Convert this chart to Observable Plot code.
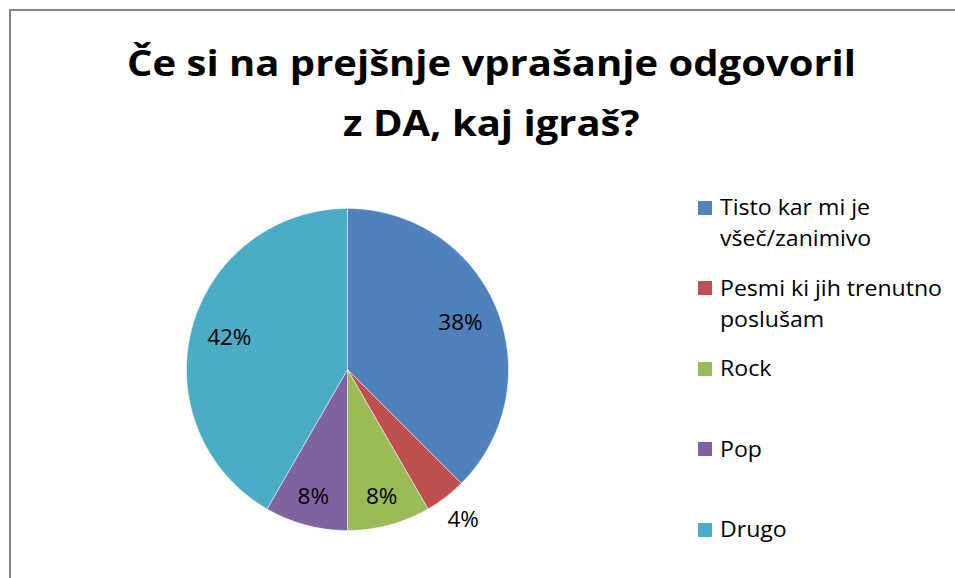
<!DOCTYPE html>
<html><head><meta charset="utf-8">
<script src="https://cdn.jsdelivr.net/npm/d3@7"></script>
<script src="https://cdn.jsdelivr.net/npm/@observablehq/plot@0.6"></script>
<style>
html,body{margin:0;padding:0;background:#fff;overflow:hidden;width:955px;height:578px;position:relative;}
#frame{position:absolute;left:9px;top:9px;width:1000px;height:700px;border:2px solid #868686;box-sizing:border-box;}
.t{position:absolute;white-space:nowrap;color:#000;font-family:"Open Sans",sans-serif;transform-origin:0 0;}
.sw{position:absolute;width:14px;height:14px;}
#chart{position:absolute;}
</style></head><body>
<div id="frame"></div>
<div id="chart"></div>
<script>
const titleLines = ["Če si na prejšnje vprašanje odgovoril", "z DA, kaj igraš?"];
const categories = ["Tisto kar mi je všeč/zanimivo", "Pesmi ki jih trenutno poslušam", "Rock", "Pop", "Drugo"];
const counts = [9, 1, 2, 2, 10];
const colors = ["#4F81BD", "#C0504D", "#9BBB59", "#8064A2", "#4BACC6"];

const FONT = "'Open Sans'";
const cv = document.createElement("canvas").getContext("2d");
function measure(txt, size, weight) {
  cv.font = `${weight} ${size}px ${FONT}`;
  return cv.measureText(txt);
}
function addText(txt, size, weight, sx, x, baseline, anchor) {
  const m = measure(txt, size, weight);
  const asc = m.fontBoundingBoxAscent, desc = m.fontBoundingBoxDescent;
  const d = document.createElement("div");
  d.className = "t";
  d.textContent = txt;
  d.style.fontSize = size + "px";
  d.style.fontWeight = weight;
  d.style.lineHeight = (asc + desc) + "px";
  d.style.top = (baseline - asc) + "px";
  d.style.transform = `scaleX(${sx})`;
  const w = m.width * sx;
  d.style.left = (anchor === "middle" ? x - w / 2 : x) + "px";
  document.body.appendChild(d);
}

// Title
const titleSize = 35;
const titleSx = 729 / measure(titleLines[0], titleSize, "bold").width;
titleLines.forEach((l, i) => addText(l, titleSize, "bold", titleSx, 491, 76 + 60 * i, "middle"));

// Legend
const legSize = 22.5;
const legSx = 222 / measure("Pesmi ki jih trenutno", legSize, "normal").width;
function wrap(txt, maxW) {
  const words = txt.split(" "), lines = [];
  let cur = "";
  for (const w of words) {
    const t = cur ? cur + " " + w : w;
    if (measure(t, legSize, "normal").width * legSx > maxW && cur) { lines.push(cur); cur = w; }
    else cur = t;
  }
  lines.push(cur);
  return lines;
}
categories.forEach((c, i) => {
  const base = 215 + 80.5 * i;
  const sw = document.createElement("div");
  sw.className = "sw";
  sw.style.background = colors[i];
  sw.style.left = "698px";
  sw.style.top = (base - 14.5) + "px";
  document.body.appendChild(sw);
  wrap(c, 228).forEach((l, j) => addText(l, legSize, "normal", legSx, 720, base + 31 * j, "start"));
});

// Pie
const total = d3.sum(counts);
const arcs = d3.pie().sort(null).value(d => d)(counts);
const R = 161, HALF = 180, D = HALF / R;
const pts = [];
const labels = [];
arcs.forEach((a, i) => {
  const cat = categories[i];
  pts.push({category: cat, x: 0, y: 0});
  const n = Math.max(2, Math.ceil((a.endAngle - a.startAngle) / (Math.PI / 360)));
  for (let k = 0; k <= n; k++) {
    const t = a.startAngle + (a.endAngle - a.startAngle) * k / n;
    pts.push({category: cat, x: Math.sin(t), y: Math.cos(t)});
  }
  pts.push({category: cat, x: 0, y: 0});
  const share = counts[i] / total;
  const mid = (a.startAngle + a.endAngle) / 2;
  const rf = share < 0.05 ? 1.18 : share < 0.2 ? 0.82 : 0.76;
  labels.push({x: rf * Math.sin(mid), y: rf * Math.cos(mid), text: Math.round(share * 100) + "%"});
});

const chart = Plot.plot({
  width: 2 * HALF, height: 2 * HALF, margin: 0,
  style: {background: "transparent", overflow: "visible"},
  x: {domain: [-D, D], axis: null},
  y: {domain: [-D, D], axis: null},
  color: {domain: categories, range: colors},
  marks: [
    Plot.line(pts, {x: "x", y: "y", z: "category", fill: "category", stroke: "white", strokeWidth: 0.6, strokeOpacity: 0.8, curve: "linear"}),
    Plot.text(labels, {x: "x", y: "y", text: "text", fill: "black", fontSize: 22.5, fontFamily: "Open Sans", transform: undefined})
  ]
});
const holder = document.getElementById("chart");
holder.style.left = (347 - HALF) + "px";
holder.style.top = (369 - HALF) + "px";
holder.appendChild(chart);
</script>
</body></html>
